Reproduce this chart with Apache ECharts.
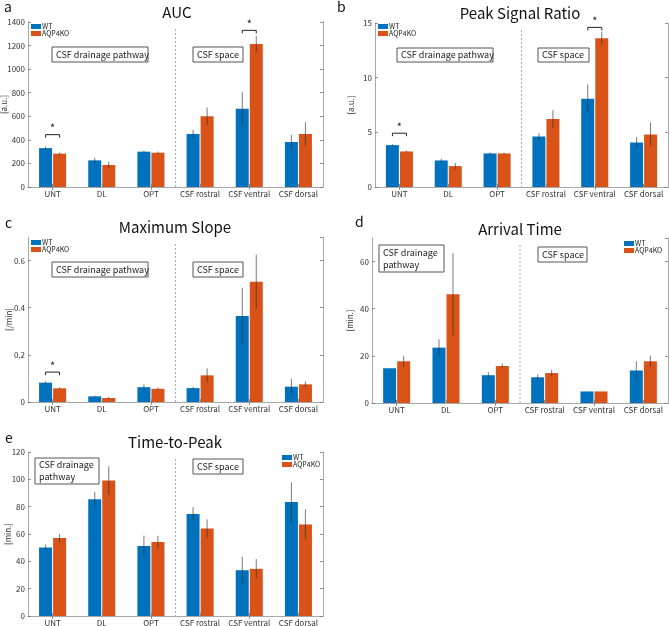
<!DOCTYPE html>
<html>
<head>
<meta charset="utf-8">
<script src="https://cdn.jsdelivr.net/npm/echarts@6/dist/echarts.min.js"></script>
<style>
html,body{margin:0;padding:0;background:#fff;}
#chart{width:669px;height:626px;}
</style>
</head>
<body>
<div id="chart"></div>
<script>
// ---------- DATA ----------
const categories = ['UNT', 'DL', 'OPT', 'CSF rostral', 'CSF ventral', 'CSF dorsal'];
const seriesNames = ['WT', 'AQP4KO'];

// a: AUC [a.u.]
const aucWT     = [330, 226, 300, 450, 665, 382];
const aucWTErr  = [15, 22, 8, 35, 140, 60];
const aucKO     = [283, 187, 291, 600, 1213, 450];
const aucKOErr  = [10, 25, 10, 75, 70, 100];
const aucSigCats = [0, 4];
const aucSigY    = [444, 1329];

// b: Peak Signal Ratio [a.u.]
const psrWT     = [3.83, 2.43, 3.07, 4.62, 8.08, 4.07];
const psrWTErr  = [0.08, 0.15, 0.1, 0.3, 1.3, 0.5];
const psrKO     = [3.25, 1.91, 3.07, 6.23, 13.6, 4.8];
const psrKOErr  = [0.08, 0.3, 0.08, 0.8, 0.6, 1.1];
const psrSigCats = [0, 4];
const psrSigY    = [4.92, 14.6];

// c: Maximum Slope [/min]
const msWT      = [0.082, 0.024, 0.063, 0.059, 0.365, 0.065];
const msWTErr   = [0.006, 0.003, 0.012, 0.005, 0.12, 0.033];
const msKO      = [0.058, 0.017, 0.056, 0.113, 0.51, 0.075];
const msKOErr   = [0.004, 0.004, 0.005, 0.03, 0.115, 0.012];
const msSigCats = [0];
const msSigY    = [0.127];

// d: Arrival Time [min.]
const atWT      = [14.75, 23.5, 11.8, 10.9, 4.9, 13.8];
const atWTErr   = [0, 3.5, 1.3, 1.2, 0, 3.9];
const atKO      = [17.7, 46.1, 15.7, 12.7, 4.9, 17.7];
const atKOErr   = [2.3, 17.4, 1.1, 1.3, 0, 2.4];
const atSigCats = [];
const atSigY    = [];

// e: Time-to-Peak [min.]
const ttpWT     = [50.2, 85.5, 51.2, 74.7, 33.5, 83.5];
const ttpWTErr  = [2.0, 5.3, 7.6, 5.0, 9.8, 14.3];
const ttpKO     = [57.0, 99.2, 54.2, 64.0, 34.5, 67.0];
const ttpKOErr  = [3.0, 10.4, 4.5, 6.7, 7.2, 11.0];
const ttpSigCats = [];
const ttpSigY    = [];

// ---------- LAYOUT ----------
const FONT = '"Noto Sans CJK JP", "Noto Sans", sans-serif';
const C_WT = '#0072BD', C_KO = '#D95319';
const AX = '#a8a8a8';

const panels = [
  { letter:'a', title:'AUC', yName:'[a.u.]', max:1400, interval:200, showMax:true,
    grid:{left:28, top:22, width:295, height:165}, nameGap:20,
    wt:aucWT, wtErr:aucWTErr, ko:aucKO, koErr:aucKOErr, sigCats:aucSigCats, sigY:aucSigY,
    legend:{left:31, top:23}, letterPos:[4,0], titlePos:[177,12],
    boxes:[{x:52,y:47,w:96,h:15,t:'CSF drainage pathway'},{x:193,y:47,w:50,h:15,t:'CSF space'}] },
  { letter:'b', title:'Peak Signal Ratio', yName:'[a.u.]', max:15, interval:5, showMax:true,
    grid:{left:375, top:23, width:293, height:164}, nameGap:20,
    wt:psrWT, wtErr:psrWTErr, ko:psrKO, koErr:psrKOErr, sigCats:psrSigCats, sigY:psrSigY,
    legend:{left:378, top:23}, letterPos:[337,0], titlePos:[520,13],
    boxes:[{x:397,y:48,w:96,h:14,t:'CSF drainage pathway'},{x:538,y:48,w:51,h:14,t:'CSF space'}] },
  { letter:'c', title:'Maximum Slope', yName:'[/min]', max:0.7, interval:0.2, showMax:false,
    grid:{left:28, top:237, width:295, height:165}, nameGap:15,
    wt:msWT, wtErr:msWTErr, ko:msKO, koErr:msKOErr, sigCats:msSigCats, sigY:msSigY,
    legend:{left:31, top:239}, letterPos:[5,216], titlePos:[175,227],
    boxes:[{x:52,y:262,w:96,h:15,t:'CSF drainage pathway'},{x:193,y:262,w:50,h:15,t:'CSF space'}] },
  { letter:'d', title:'Arrival Time', yName:'[min.]', max:70, interval:20, showMax:false,
    grid:{left:372, top:238, width:296, height:165}, nameGap:18,
    wt:atWT, wtErr:atWTErr, ko:atKO, koErr:atKOErr, sigCats:atSigCats, sigY:atSigY,
    legend:{left:624, top:240}, letterPos:[355,215], titlePos:[520,229],
    boxes:[{x:379,y:245,w:65,h:27,t:'CSF drainage\npathway'},{x:538,y:247,w:49,h:15,t:'CSF space'}] },
  { letter:'e', title:'Time-to-Peak', yName:'[min.]', max:120, interval:20, showMax:true,
    grid:{left:28, top:452, width:295, height:164}, nameGap:16,
    wt:ttpWT, wtErr:ttpWTErr, ko:ttpKO, koErr:ttpKOErr, sigCats:ttpSigCats, sigY:ttpSigY,
    legend:{left:282, top:454}, letterPos:[5,431], titlePos:[175,442],
    boxes:[{x:35,y:458,w:64,h:26,t:'CSF drainage\npathway'},{x:193,y:459,w:50,h:15,t:'CSF space'}] }
];

const BAR_W = 13, HALF = 7;

function errRender(offset){
  return function(params, api){
    const i = api.value(0), v = api.value(1), e = api.value(2);
    if (!e) return null;
    const hi = api.coord([i, v + e]), lo = api.coord([i, v - e]);
    const x = hi[0] + offset;
    return { type:'line', shape:{x1:x, y1:hi[1], x2:x, y2:lo[1]},
             style:{stroke:'rgba(45,45,45,0.8)', lineWidth:0.8} };
  };
}
function sigRender(params, api){
  const p = api.coord([api.value(0), api.value(1)]);
  const x1 = p[0] - HALF, x2 = p[0] + HALF, y = p[1];
  return { type:'group', children:[
    { type:'polyline', shape:{points:[[x1,y+3],[x1,y],[x2,y],[x2,y+3]]},
      style:{stroke:'#222', lineWidth:1, fill:null} },
    { type:'text', style:{text:'*', x:p[0], y:y-1, textAlign:'center', textVerticalAlign:'bottom',
      font:'11px ' + FONT, fill:'#222'} }
  ]};
}
function dividerRender(params, api){
  const a = api.coord([2, 0])[0], b = api.coord([3, 0])[0];
  const x = (a + b) / 2;
  const cs = params.coordSys;
  return { type:'line', shape:{x1:x, y1:cs.y + 7, x2:x, y2:cs.y + cs.height},
           style:{stroke:'#aaa', lineWidth:1, lineDash:[2,2]} };
}

const option = {
  animation:false,
  backgroundColor:'#fff',
  textStyle:{fontFamily:FONT},
  grid:[], xAxis:[], yAxis:[], series:[], legend:[], graphic:[]
};

panels.forEach((p, k) => {
  option.grid.push(Object.assign({containLabel:false, outerBoundsMode:'none'}, p.grid));
  const tick = {show:true, inside:true, length:3, lineStyle:{color:'#777', width:0.8}};
  option.xAxis.push({type:'category', gridIndex:k, data:categories, position:'bottom',
    axisLine:{lineStyle:{color:AX}}, axisTick:Object.assign({alignWithLabel:true}, tick),
    axisLabel:{fontSize:8, color:'#333', margin:2, interval:0, lineHeight:9}});
  option.xAxis.push({type:'category', gridIndex:k, data:categories, position:'top',
    axisLine:{lineStyle:{color:AX}}, axisTick:Object.assign({alignWithLabel:true}, tick),
    axisLabel:{show:false}});
  option.yAxis.push({type:'value', gridIndex:k, min:0, max:p.max, interval:p.interval, position:'left',
    name:p.yName, nameLocation:'middle', nameGap:p.nameGap, nameRotate:90, nameMoveOverlap:false,
    nameTextStyle:{fontSize:8, color:'#333'},
    axisLine:{show:true, lineStyle:{color:AX}}, axisTick:tick, splitLine:{show:false},
    axisLabel:{fontSize:8, color:'#333', margin:3, showMaxLabel:p.showMax,
      formatter:v => String(Math.round(v * 1000) / 1000)}});
  option.yAxis.push({type:'value', gridIndex:k, min:0, max:p.max, interval:p.interval, position:'right',
    axisLine:{show:true, lineStyle:{color:AX}}, axisTick:tick, splitLine:{show:false},
    axisLabel:{show:false}});
  const xi = 2*k, yi = 2*k;
  option.series.push({name:'WT', type:'bar', xAxisIndex:xi, yAxisIndex:yi, data:p.wt,
    barWidth:BAR_W, barGap:'8%', itemStyle:{color:C_WT}, z:2});
  option.series.push({name:'AQP4KO', type:'bar', xAxisIndex:xi, yAxisIndex:yi, data:p.ko,
    barWidth:BAR_W, barGap:'8%', itemStyle:{color:C_KO}, z:2});
  option.series.push({name:'errWT'+k, type:'custom', xAxisIndex:xi, yAxisIndex:yi,
    data:p.wt.map((v,i)=>[i, v, p.wtErr[i]]), encode:{x:0, y:1}, renderItem:errRender(-HALF), z:5});
  option.series.push({name:'errKO'+k, type:'custom', xAxisIndex:xi, yAxisIndex:yi,
    data:p.ko.map((v,i)=>[i, v, p.koErr[i]]), encode:{x:0, y:1}, renderItem:errRender(HALF), z:5});
  option.series.push({name:'div'+k, type:'custom', xAxisIndex:xi, yAxisIndex:yi,
    data:[[2, 0]], encode:{x:0, y:1}, renderItem:dividerRender, z:1, clip:false});
  if (p.sigCats.length){
    option.series.push({name:'sig'+k, type:'custom', xAxisIndex:xi, yAxisIndex:yi,
      data:p.sigCats.map((c,i)=>[c, p.sigY[i]]), encode:{x:0, y:1}, renderItem:sigRender, z:6, clip:false});
  }
  option.legend.push({data:seriesNames, orient:'vertical', left:p.legend.left, top:p.legend.top,
    itemWidth:10, itemHeight:5, itemGap:0, padding:0, icon:'rect', selectedMode:false,
    textStyle:{fontSize:7, color:'#222', padding:[0,0,0,-4]}});
  option.graphic.push({type:'text', left:p.letterPos[0], top:p.letterPos[1],
    style:{text:p.letter, font:'14px ' + FONT, fill:'#111'}});
  option.graphic.push({type:'text', x:p.titlePos[0], y:p.titlePos[1],
    style:{text:p.title, font:'15px ' + FONT, fill:'#111', textAlign:'center', textVerticalAlign:'middle'}});
  p.boxes.forEach(b => {
    option.graphic.push({type:'rect', shape:{x:b.x, y:b.y, width:b.w, height:b.h},
      style:{fill:'#fff', stroke:'#555', lineWidth:1}, z:10});
    option.graphic.push({type:'text', x:b.x + 4, y:b.y + b.h/2,
      style:{text:b.t, font:'9px ' + FONT, fill:'#222', textVerticalAlign:'middle', lineHeight:12}, z:11});
  });
});

const chart = echarts.init(document.getElementById('chart'), null, {renderer:'canvas'});
chart.setOption(option);
</script>
</body>
</html>
